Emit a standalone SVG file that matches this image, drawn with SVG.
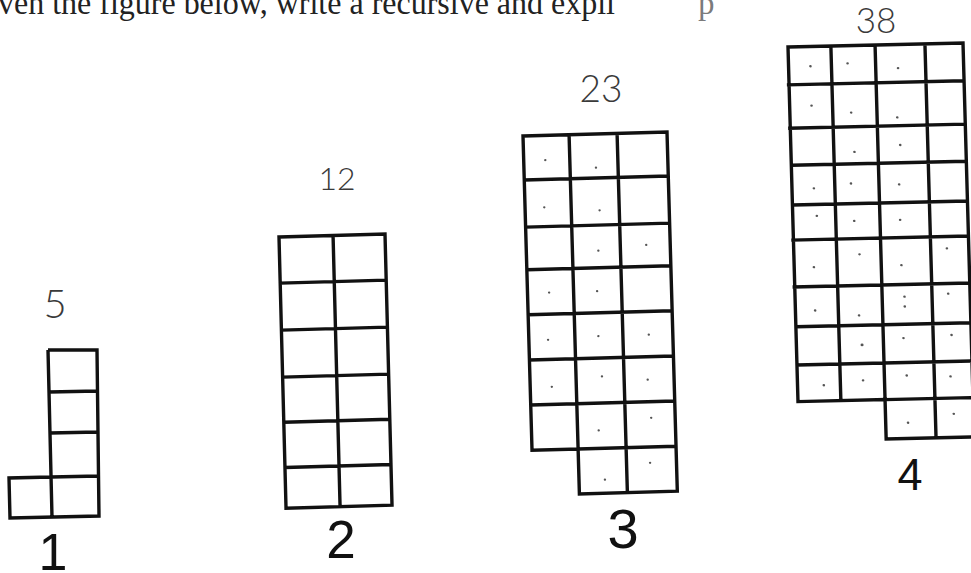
<svg xmlns="http://www.w3.org/2000/svg" width="971" height="573" viewBox="0 0 971 573">
<style>
.g{fill:none;stroke:#111;stroke-width:3.4;stroke-linejoin:miter;vector-effect:non-scaling-stroke}
.hd{font-family:Lato,"DejaVu Sans",sans-serif;font-weight:300;fill:#3a3a3a;text-anchor:middle}
.lb{font-family:"Liberation Sans",Arial,sans-serif;fill:#111;text-anchor:middle}
.tp{font-family:"Liberation Serif","Times New Roman",serif;font-size:33px;fill:#222}
.d{fill:#555}
</style>
<rect width="971" height="573" fill="#fff"/>
<text class="tp" x="-2" y="14" textLength="617" lengthAdjust="spacingAndGlyphs">ven the figure below, write a recursive and expli</text>
<text class="tp" x="698" y="14" fill-opacity="0.6">p</text>

<g id="fig1">
<path class="g" d="M48,350 L97,350 L99,516 L10,518 L9,478 L51,477 M48,350 L52,517 M49,392 L98,391 M50,433 L98,432 M51,477 L99,476"/>
<text class="hd" x="55" y="318" font-size="40">5</text>
<text class="lb" x="53" y="570" font-size="52">1</text>
</g>

<g id="fig2">
<g transform="matrix(53 -1.5 1.17 45.2 279 237)">
<path class="g" d="M0,0 H2 V6 H0 Z M1.02,0 V6 M0,1.02 H2 M0,2.06 H2 M0,3.1 H2 M0,4.1 H2 M0,5.1 H2"/>
</g>
<text class="hd" x="337" y="190" font-size="32">12</text>
<text class="lb" x="341" y="558" font-size="53">2</text>
</g>

<g id="fig3">
<g transform="matrix(48 -1.33 1.29 44.9 523 136)">
<path class="g" d="M0,0 H3 V8 H0.96 V7 H0 Z M0.96,0 V8 M1.96,0 V8 M0,0.98 H3 M0,2.03 H3 M0,2.98 H3 M0,3.98 H3 M0,4.99 H3 M0,5.99 H3 M0.96,7 H3"/>
<g class="d">
<ellipse cx="0.45" cy="0.55" rx="0.025" ry="0.025"/><ellipse cx="1.5" cy="0.75" rx="0.025" ry="0.025"/>
<ellipse cx="0.4" cy="1.6" rx="0.025" ry="0.025"/><ellipse cx="1.55" cy="1.7" rx="0.025" ry="0.025"/>
<ellipse cx="1.5" cy="2.6" rx="0.025" ry="0.025"/><ellipse cx="2.5" cy="2.5" rx="0.025" ry="0.025"/>
<ellipse cx="0.45" cy="3.5" rx="0.025" ry="0.025"/><ellipse cx="1.45" cy="3.5" rx="0.025" ry="0.025"/>
<ellipse cx="0.4" cy="4.55" rx="0.025" ry="0.025"/><ellipse cx="1.45" cy="4.5" rx="0.025" ry="0.025"/><ellipse cx="2.5" cy="4.5" rx="0.025" ry="0.025"/>
<ellipse cx="0.45" cy="5.6" rx="0.025" ry="0.025"/><ellipse cx="1.5" cy="5.4" rx="0.025" ry="0.025"/><ellipse cx="2.45" cy="5.5" rx="0.025" ry="0.025"/>
<ellipse cx="1.4" cy="6.6" rx="0.025" ry="0.025"/><ellipse cx="2.5" cy="6.35" rx="0.025" ry="0.025"/>
<ellipse cx="1.5" cy="7.7" rx="0.025" ry="0.025"/><ellipse cx="2.45" cy="7.35" rx="0.025" ry="0.025"/>
</g>
</g>
<text class="hd" x="601" y="102" font-size="37">23</text>
<text class="lb" x="623" y="548" font-size="56">3</text>
</g>

<g id="fig4">
<g transform="matrix(43.75 -1 1.11 39.4 788 47)">
<path class="g" d="M0,0 H4 V10 H1.99 V9 H0 Z M0.98,0 V9 M1.99,0 V10 M3.13,0 V10 M-0.05,0.96 H4 M-0.05,2.06 H4 M0,3 H4 M0,4.01 H4 M-0.05,4.9 H4 M-0.05,6.09 H4 M0,7.1 H4 M0,8.07 H4 M1.99,9 H4"/>
<g class="d">
<ellipse cx="0.5" cy="0.5" rx="0.03" ry="0.03"/><ellipse cx="1.35" cy="0.45" rx="0.03" ry="0.03"/><ellipse cx="2.5" cy="0.6" rx="0.03" ry="0.03"/>
<ellipse cx="0.5" cy="1.5" rx="0.03" ry="0.03"/><ellipse cx="1.4" cy="1.7" rx="0.03" ry="0.03"/><ellipse cx="2.45" cy="1.85" rx="0.03" ry="0.03"/>
<ellipse cx="1.45" cy="2.7" rx="0.03" ry="0.03"/><ellipse cx="2.5" cy="2.55" rx="0.03" ry="0.03"/>
<ellipse cx="0.5" cy="3.6" rx="0.03" ry="0.03"/><ellipse cx="1.35" cy="3.5" rx="0.03" ry="0.03"/><ellipse cx="2.45" cy="3.55" rx="0.03" ry="0.03"/>
<ellipse cx="0.55" cy="4.3" rx="0.03" ry="0.03"/><ellipse cx="1.4" cy="4.45" rx="0.03" ry="0.03"/><ellipse cx="2.45" cy="4.45" rx="0.03" ry="0.03"/>
<ellipse cx="0.45" cy="5.6" rx="0.03" ry="0.03"/><ellipse cx="1.5" cy="5.3" rx="0.03" ry="0.03"/><ellipse cx="2.45" cy="5.6" rx="0.03" ry="0.03"/><ellipse cx="3.5" cy="5.2" rx="0.03" ry="0.03"/>
<ellipse cx="0.45" cy="6.7" rx="0.03" ry="0.03"/><ellipse cx="1.45" cy="6.85" rx="0.03" ry="0.03"/><ellipse cx="2.5" cy="6.4" rx="0.03" ry="0.03"/><ellipse cx="2.5" cy="6.65" rx="0.03" ry="0.03"/><ellipse cx="3.5" cy="6.35" rx="0.03" ry="0.03"/>
<ellipse cx="1.5" cy="7.6" rx="0.035" ry="0.035"/><ellipse cx="2.45" cy="7.45" rx="0.03" ry="0.03"/><ellipse cx="3.55" cy="7.4" rx="0.03" ry="0.03"/>
<ellipse cx="0.6" cy="8.6" rx="0.03" ry="0.03"/><ellipse cx="1.5" cy="8.5" rx="0.03" ry="0.03"/><ellipse cx="2.5" cy="8.4" rx="0.03" ry="0.03"/><ellipse cx="3.5" cy="8.45" rx="0.03" ry="0.03"/>
<ellipse cx="2.5" cy="9.6" rx="0.03" ry="0.03"/><ellipse cx="3.55" cy="9.4" rx="0.03" ry="0.03"/>
</g>
</g>
<text class="hd" x="876" y="33" font-size="35">38</text>
<text class="lb" x="910" y="490" font-size="45">4</text>
</g>
</svg>
